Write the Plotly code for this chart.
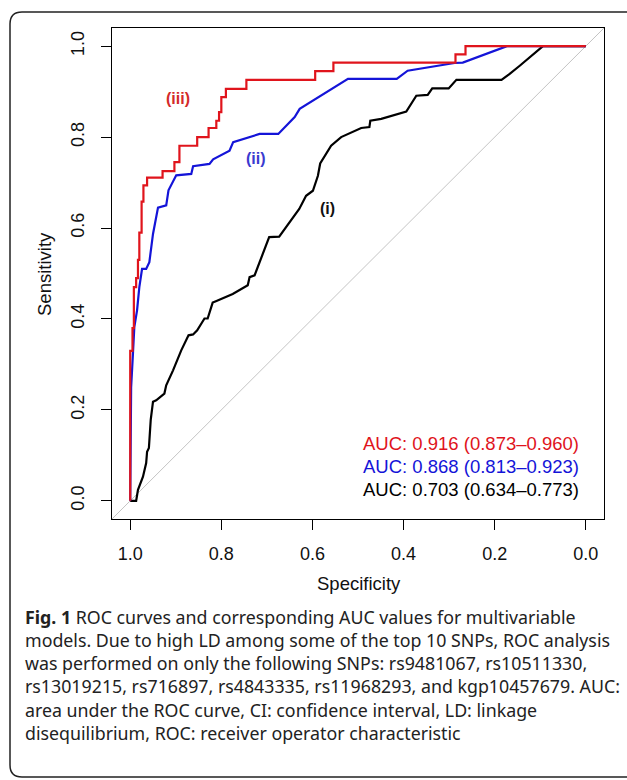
import plotly.graph_objects as go

W, H = 627, 780

# ---- data (specificity, sensitivity) ----
# (iii) red, drawn as a step curve
spec_iii = [1.0, 1.0, 0.995, 0.992, 0.987, 0.983, 0.980, 0.975, 0.971, 0.963, 0.929,
            0.903, 0.892, 0.853, 0.828, 0.811, 0.805, 0.800, 0.790, 0.745, 0.594,
            0.554, 0.286, 0.264, 0.0]
sens_iii = [0.0, 0.33, 0.38, 0.47, 0.49, 0.53, 0.59, 0.658, 0.694, 0.711, 0.725,
            0.745, 0.781, 0.800, 0.820, 0.836, 0.855, 0.888, 0.906, 0.926, 0.945,
            0.964, 0.982, 1.0, 1.0]

# (ii) blue
spec_ii = [1.0, 0.998, 0.994, 0.991, 0.985, 0.980, 0.974, 0.965, 0.958, 0.950, 0.939,
           0.921, 0.916, 0.899, 0.866, 0.862, 0.826, 0.818, 0.782, 0.774, 0.716,
           0.675, 0.639, 0.628, 0.522, 0.415, 0.391, 0.288, 0.270, 0.173, 0.0]
sens_ii = [0.0, 0.25, 0.324, 0.382, 0.419, 0.470, 0.510, 0.510, 0.525, 0.587, 0.645,
           0.650, 0.683, 0.716, 0.719, 0.736, 0.741, 0.751, 0.770, 0.789, 0.807,
           0.807, 0.844, 0.862, 0.928, 0.928, 0.946, 0.963, 0.964, 1.0, 1.0]

# (i) black
spec_i = [1.0, 0.987, 0.983, 0.972, 0.965, 0.963, 0.959, 0.955, 0.950, 0.943, 0.925,
          0.921, 0.906, 0.888, 0.872, 0.862, 0.853, 0.837, 0.830, 0.819, 0.812,
          0.775, 0.742, 0.738, 0.727, 0.695, 0.673, 0.629, 0.614, 0.599, 0.588,
          0.583, 0.559, 0.537, 0.493, 0.475, 0.473, 0.449, 0.394, 0.372, 0.347,
          0.337, 0.301, 0.284, 0.185, 0.167, 0.145, 0.116, 0.094, 0.0]
sens_i = [0.0, 0.0, 0.024, 0.053, 0.083, 0.108, 0.116, 0.178, 0.218, 0.221, 0.236,
          0.254, 0.287, 0.331, 0.364, 0.366, 0.375, 0.401, 0.401, 0.436, 0.439,
          0.455, 0.474, 0.492, 0.496, 0.580, 0.581, 0.642, 0.671, 0.682, 0.715,
          0.742, 0.781, 0.800, 0.820, 0.822, 0.836, 0.840, 0.856, 0.891, 0.893,
          0.907, 0.907, 0.926, 0.926, 0.939, 0.957, 0.982, 1.0, 1.0]

tick_vals = [0.0, 0.2, 0.4, 0.6, 0.8, 1.0]
tick_text = ["0.0", "0.2", "0.4", "0.6", "0.8", "1.0"]

auc_lines = ["AUC: 0.916 (0.873\u20130.960)",
             "AUC: 0.868 (0.813\u20130.923)",
             "AUC: 0.703 (0.634\u20130.773)"]

curve_labels = ["(iii)", "(ii)", "(i)"]
label_spec = [0.895, 0.725, 0.568]
label_sens = [0.884, 0.752, 0.642]

caption = ("<b>Fig. 1</b> ROC curves and corresponding AUC values for multivariable<br>"
           "models. Due to high LD among some of the top 10 SNPs, ROC analysis<br>"
           "was performed on only the following SNPs: rs9481067, rs10511330,<br>"
           "rs13019215, rs716897, rs4843335, rs11968293, and kgp10457679. AUC:<br>"
           "area under the ROC curve, CI: confidence interval, LD: linkage<br>"
           "disequilibrium, ROC: receiver operator characteristic")

RED = "#e0141c"
BLUE = "#1414d8"
BLACK = "#000000"

def px(x):
    return x / W

def py(y):
    return 1 - y / H

fig = go.Figure()
fig.add_trace(go.Scatter(x=spec_i, y=sens_i, mode="lines",
                         line=dict(color=BLACK, width=2.2), showlegend=False))
fig.add_trace(go.Scatter(x=spec_ii, y=sens_ii, mode="lines",
                         line=dict(color=BLUE, width=2.2), showlegend=False))
fig.add_trace(go.Scatter(x=spec_iii, y=sens_iii, mode="lines", line_shape="hv",
                         line=dict(color=RED, width=2.2), showlegend=False))

# diagonal reference line across the plotting box
fig.add_shape(type="line", xref="x domain", yref="y domain", x0=0, y0=0, x1=1, y1=1,
              line=dict(color="#c4c4c4", width=1), layer="below")

font_main = "Liberation Sans, Arial, sans-serif"

lab_colors = ["#d42a2a", "#3a3ad0", "#111111"]
for t, xs, ys, c in zip(curve_labels, label_spec, label_sens, lab_colors):
    fig.add_annotation(x=xs, y=ys, xref="x", yref="y", text="<b>%s</b>" % t,
                       showarrow=False, font=dict(family=font_main, size=16, color=c))

auc_colors = [RED, BLUE, BLACK]
auc_y = [443, 466, 489]
for t, c, yy in zip(auc_lines, auc_colors, auc_y):
    fig.add_annotation(x=px(581), y=py(yy), xref="paper", yref="paper", text=t,
                       xanchor="right", yanchor="middle", showarrow=False,
                       font=dict(family=font_main, size=18.5, color=c))

# axis titles
fig.add_annotation(x=px(359), y=py(583), xref="paper", yref="paper", text="Specificity",
                   showarrow=False, xanchor="center", yanchor="middle",
                   font=dict(family=font_main, size=18.5, color="#111"))
fig.add_annotation(x=px(44), y=py(274), xref="paper", yref="paper", text="Sensitivity",
                   showarrow=False, textangle=-90, xanchor="center", yanchor="middle",
                   font=dict(family=font_main, size=18.5, color="#111"))

# caption
fig.add_annotation(x=px(23), y=py(603), xref="paper", yref="paper", text=caption,
                   showarrow=False, xanchor="left", yanchor="top", align="left",
                   font=dict(family="Noto Sans, Open Sans, sans-serif", size=17.8, color="#222"))

# rounded frame around the figure (right side runs off the image)
l, t, b, r, rad = px(10), py(12), py(777), 1.05, 12 / W
rady = 12 / H
path = (f"M {l + rad},{t} L {r},{t} L {r},{b} L {l + rad},{b} "
        f"Q {l},{b} {l},{b + rady} L {l},{t - rady} Q {l},{t} {l + rad},{t} Z")
fig.add_shape(type="path", xref="paper", yref="paper", path=path,
              line=dict(color="#222", width=1.5), fillcolor="rgba(0,0,0,0)", layer="below")

axis_common = dict(showline=True, linecolor="black", linewidth=1, mirror=True,
                   ticks="outside", ticklen=10, tickcolor="black", tickwidth=1,
                   showgrid=False, zeroline=False, tickvals=tick_vals, ticktext=tick_text,
                   automargin=False,
                   tickfont=dict(family=font_main, size=18, color="#111"))

fig.update_layout(
    width=W, height=H,
    margin=dict(l=0, r=0, t=0, b=0),
    paper_bgcolor="white", plot_bgcolor="white",
    xaxis=dict(domain=[px(112), px(604)], range=[1.04, -0.04], ticklabelstandoff=8,
               **axis_common),
    yaxis=dict(domain=[py(519), py(28)], range=[-0.04, 1.04], tickangle=-90,
               ticklabelstandoff=10, **axis_common),
)

fig.write_html("out.html", config={"displayModeBar": False},
               post_script="document.body.style.margin='0';")
